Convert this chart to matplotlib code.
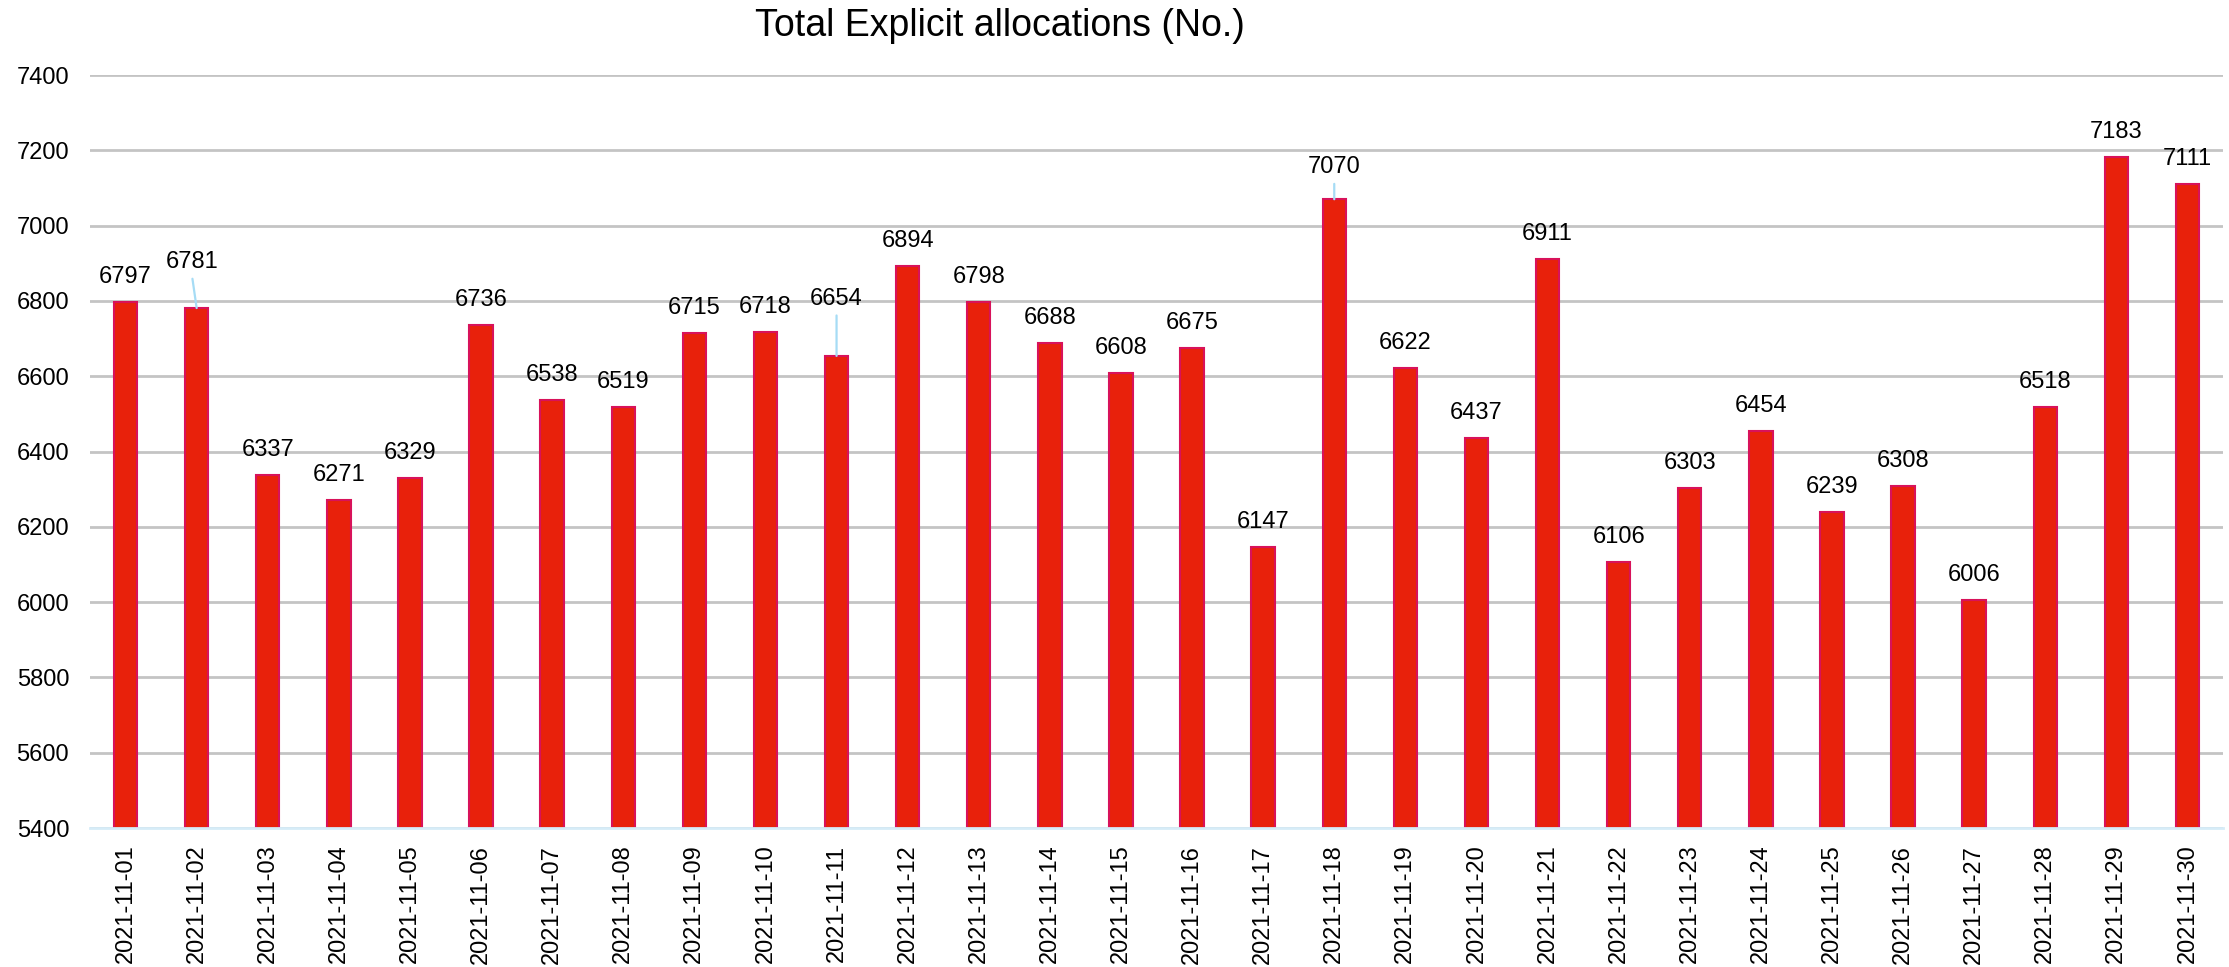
import matplotlib
matplotlib.use("Agg")
import matplotlib.pyplot as plt
import numpy as np

dates = ["2021-11-%02d" % d for d in range(1, 31)]
values = [6797, 6781, 6337, 6271, 6329, 6736, 6538, 6519, 6715, 6718,
          6654, 6894, 6798, 6688, 6608, 6675, 6147, 7070, 6622, 6437,
          6911, 6106, 6303, 6454, 6239, 6308, 6006, 6518, 7183, 7111]
yticks = [5400, 5600, 5800, 6000, 6200, 6400, 6600, 6800, 7000, 7200, 7400]
title = "Total Explicit allocations (No.)"

# label offsets (points) for labels moved away from bars, with leader lines
moved = {1: (-3.6, 33.0), 10: (0.0, 41.0), 17: (0.0, 23.0)}

plt.rcParams['font.family'] = ['Liberation Sans', 'DejaVu Sans']

fig = plt.figure(figsize=(22.29, 9.67), dpi=100)
ax = fig.add_axes([90/2229, 1 - 828/967, (2223-90)/2229, (828-75)/967])

x = np.arange(len(values))
ax.bar(x, values, width=0.33, color="#e8210b", edgecolor="#d8125a",
       linewidth=1.5, zorder=3)

ax.set_xlim(-0.5, len(values) - 0.5)
ax.set_ylim(yticks[0], yticks[-1])
ax.set_yticks(yticks)
ax.set_yticklabels([str(t) for t in yticks], fontsize=17)
ax.set_xticks(x)
ax.set_xticklabels(dates, rotation=90, fontsize=17)
ax.tick_params(axis='both', length=0)
ax.tick_params(axis='y', pad=15)
ax.tick_params(axis='x', pad=12)

ax.set_axisbelow(True)
ax.yaxis.grid(True, color="#c4c4c4", linewidth=2)
for s in ["top", "right", "left"]:
    ax.spines[s].set_visible(False)
ax.spines["bottom"].set_color("#d6ecf8")
ax.spines["bottom"].set_linewidth(2)
ax.spines["bottom"].set_zorder(4)

for i, v in enumerate(values):
    if i in moved:
        dx, dy = moved[i]
        ax.annotate(str(v), xy=(i, v), xytext=(dx, dy), textcoords="offset points",
                    ha="center", va="center", fontsize=17, zorder=5,
                    arrowprops=dict(arrowstyle="-", color="#a6dcf5", lw=1.6,
                                    shrinkA=2, shrinkB=0, relpos=(0.5, 0.0)))
    else:
        ax.annotate(str(v), xy=(i, v), xytext=(0, 18), textcoords="offset points",
                    ha="center", va="center", fontsize=17, zorder=5)

fig.text(1000/2229, 1 - 36/967, title, ha="center", va="baseline", fontsize=27)

fig.savefig("out.png", dpi=100)
